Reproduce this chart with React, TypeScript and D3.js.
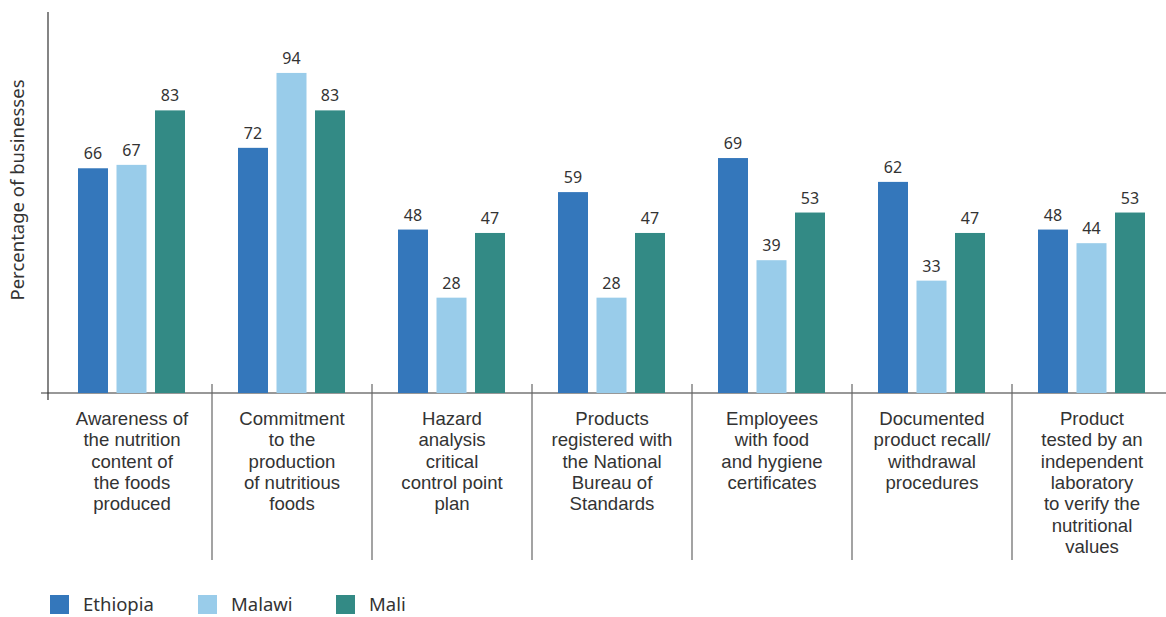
import React from "react";
import * as d3 from "d3";

const categories = [
  "Awareness of the nutrition content of the foods produced",
  "Commitment to the production of nutritious foods",
  "Hazard analysis critical control point plan",
  "Products registered with the National Bureau of Standards",
  "Employees with food and hygiene certificates",
  "Documented product recall/ withdrawal procedures",
  "Product tested by an independent laboratory to verify the nutritional values",
];
const categoryLines = [
  ["Awareness of", "the nutrition", "content of", "the foods", "produced"],
  ["Commitment", "to the", "production", "of nutritious", "foods"],
  ["Hazard", "analysis", "critical", "control point", "plan"],
  ["Products", "registered with", "the National", "Bureau of", "Standards"],
  ["Employees", "with food", "and hygiene", "certificates"],
  ["Documented", "product recall/", "withdrawal", "procedures"],
  ["Product", "tested by an", "independent", "laboratory", "to verify the", "nutritional", "values"],
];
const series = ["Ethiopia", "Malawi", "Mali"];
const ethiopia = [66, 72, 48, 59, 69, 62, 48];
const malawi = [67, 94, 28, 28, 39, 33, 44];
const mali = [83, 83, 47, 47, 53, 47, 53];
const seriesValues = [ethiopia, malawi, mali];
const colors = ["#3477BB", "#99CCEA", "#338A85"];

const W = 1166;
const H = 617;
const FONT = "'Noto Sans', sans-serif";
const LABEL_FONT = "'Liberation Sans', Arial, sans-serif";
const TEXT = "#333333";

export default function App() {
  const baseY = 393;
  const x0 = d3.scaleBand<string>().domain(categories).range([52, 52 + 160 * categories.length]).padding(0);
  const x1 = d3.scaleBand<string>().domain(series).range([26, 133]).paddingInner(0.2208).paddingOuter(0);
  const y = d3.scaleLinear().domain([0, 100]).range([baseY, baseY - 340.5]);
  const color = d3.scaleOrdinal<string, string>().domain(series).range(colors);

  return (
    <svg width={W} height={H} style={{ position: "absolute", left: 0, top: 0, background: "#fff" }} fontFamily={FONT}>
      {/* y axis */}
      <line x1={48} x2={48} y1={12} y2={400} stroke="#333" strokeWidth={1.2} />
      <line x1={41} x2={W} y1={baseY} y2={baseY} stroke="#333" strokeWidth={1.2} />
      <text
        transform={`translate(24, ${190}) rotate(-90)`}
        textAnchor="middle"
        fontSize={18.5}
        fill={TEXT}
      >
        Percentage of businesses
      </text>

      {/* separators */}
      {categories.slice(1).map((c) => (
        <line key={c} x1={x0(c)!} x2={x0(c)!} y1={384} y2={560} stroke="#666" strokeWidth={1.2} />
      ))}

      {/* bars */}
      {categories.map((c, i) => (
        <g key={c} transform={`translate(${x0(c)},0)`}>
          {series.map((s, j) => {
            const v = seriesValues[j][i];
            const bx = x1(s)!;
            return (
              <g key={s}>
                <rect x={bx} y={y(v)} width={x1.bandwidth()} height={baseY - y(v)} fill={color(s)} />
                <text x={bx + x1.bandwidth() / 2} y={y(v) - 9} textAnchor="middle" fontSize={16} fill={TEXT}>
                  {v}
                </text>
              </g>
            );
          })}
          {categoryLines[i].map((ln, k) => (
            <text
              key={k}
              x={80}
              y={425 + k * 21.3}
              textAnchor="middle"
              fontSize={18.6}
              fontFamily={LABEL_FONT}
              fill={TEXT}
            >
              {ln}
            </text>
          ))}
        </g>
      ))}

      {/* legend */}
      {series.map((s, j) => {
        const lx = [50, 198, 336][j];
        return (
          <g key={s}>
            <rect x={lx} y={595} width={19} height={19} fill={color(s)} />
            <text x={lx + 33} y={611} fontSize={18.5} fill={TEXT}>
              {s}
            </text>
          </g>
        );
      })}
    </svg>
  );
}
